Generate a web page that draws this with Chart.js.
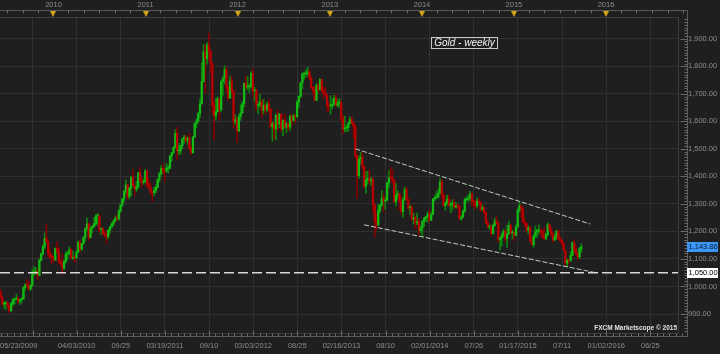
<!DOCTYPE html>
<html>
<head>
<meta charset="utf-8">
<script src="https://cdn.jsdelivr.net/npm/chart.js@4.4.0/dist/chart.umd.min.js"></script>
<style>
  html, body { margin: 0; padding: 0; background: #1f1f1f; }
  canvas { display: block; }
</style>
</head>
<body>
<canvas id="gold" width="720" height="354"></canvas>
<script>
// weekly candles, first one is the week of 06/05/2009 (week -30 counted from 01/01/2010)
const firstWeek = -30;
const firstOpen = 980;

const closes = [
  // 2009
  962,936,937,940,930,912,937,951,954,956, 947,952,955,996,1006,1003,991,1004,1050,1052,
  1056,1040,1095,1118,1144,1175,1163,1120,1110,1104,
  // 2010
  1096,1138,1130,1090,1083,1066,1090,1118,1118,1133, 1102,1105,1104,1125,1161,1136,1156,1179,1209,1228,
  1177,1212,1219,1229,1256,1256,1208,1210,1190,1189, 1181,1204,1216,1227,1237,1247,1246,1275,1296,1318,
  1346,1369,1326,1358,1397,1366,1353,1362,1413,1385, 1378,1380,1421,
  // 2011
  1368,1360,1343,1340,1348,1360,1388,1409,1429,1421, 1419,1429,1429,1474,1486,1504,1556,1492,1493,1512,
  1536,1542,1529,1539,1501,1486,1543,1592,1601,1628, 1663,1744,1852,1828,1877,1856,1812,1656,1620,1635,
  1682,1642,1745,1755,1788,1724,1685,1746,1711,1598, 1606,1565,
  // 2012
  1616,1630,1664,1738,1725,1725,1725,1774,1710,1711, 1657,1662,1668,1640,1659,1642,1663,1644,1580,1592,
  1572,1622,1590,1626,1573,1604,1579,1591,1579,1618, 1603,1621,1617,1670,1691,1740,1771,1772,1773,1780,
  1757,1724,1712,1676,1730,1714,1752,1712,1704,1696, 1657,1656,
  // 2013
  1656,1662,1685,1658,1667,1667,1609,1572,1576,1577, 1592,1608,1596,1580,1476,1403,1462,1469,1436,1364,
  1387,1393,1383,1388,1296,1234,1223,1277,1295,1321, 1310,1313,1376,1396,1395,1387,1308,1332,1338,1309,
  1272,1315,1352,1315,1286,1287,1244,1250,1231,1236, 1203,1213,
  // 2014
  1237,1248,1254,1264,1240,1262,1318,1323,1326,1339, 1379,1334,1294,1303,1318,1294,1300,1302,1288,1293,
  1292,1245,1252,1274,1316,1316,1320,1337,1310,1306, 1294,1310,1305,1280,1287,1268,1230,1216,1218,1192,
  1222,1238,1231,1171,1177,1188,1200,1175,1191,1222, 1195,1195,
  // 2015
  1186,1216,1277,1293,1283,1234,1227,1204,1213,1165, 1152,1183,1199,1201,1206,1203,1178,1174,1189,1225,
  1205,1189,1168,1180,1201,1173,1168,1158,1132,1085, 1095,1094,1113,1160,1134,1121,1108,1137,1144
];

const highs = [
  990,965,946,947,946,932,942,958,957,972, 962,954,960,999,1010,1025,1018,1007,1062,1072,
  1070,1065,1101,1122,1151,1195,1226,1166,1137,1118,
  1110,1140,1162,1142,1103,1119,1097,1126,1128,1145, 1138,1130,1112,1129,1165,1167,1157,1180,1213,1249,
  1231,1218,1221,1251,1261,1265,1262,1213,1215,1203, 1201,1208,1219,1232,1242,1256,1259,1280,1298,1320,
  1349,1387,1372,1360,1399,1424,1369,1383,1414,1432, 1395,1392,1424,
  1423,1390,1375,1345,1360,1368,1390,1415,1438,1445, 1425,1447,1440,1476,1487,1508,1569,1577,1520,1514,
  1539,1549,1549,1544,1557,1512,1545,1594,1610,1632, 1682,1813,1880,1877,1886,1921,1860,1809,1674,1684,
  1689,1683,1748,1764,1802,1795,1727,1764,1763,1714, 1625,1614,
  1626,1660,1672,1740,1764,1763,1737,1781,1792,1723, 1718,1672,1697,1679,1680,1660,1670,1678,1646,1600,
  1597,1626,1640,1629,1628,1605,1627,1597,1597,1623, 1624,1626,1626,1675,1692,1741,1777,1779,1788,1796,
  1787,1765,1725,1726,1738,1737,1754,1754,1724,1724, 1697,1668,
  1693,1679,1694,1697,1679,1683,1675,1620,1619,1586, 1597,1616,1616,1587,1588,1476,1476,1488,1486,1437,
  1417,1419,1424,1396,1396,1300,1267,1298,1298,1348, 1337,1325,1378,1420,1434,1423,1388,1375,1348,1338,
  1328,1323,1361,1360,1321,1294,1295,1266,1256,1267, 1247,1219,
  1240,1251,1256,1272,1279,1270,1320,1332,1345,1355, 1392,1389,1338,1309,1332,1331,1305,1315,1315,1306,
  1298,1294,1257,1278,1321,1326,1332,1346,1340,1316, 1312,1322,1320,1309,1296,1289,1270,1237,1224,1222,
  1227,1249,1255,1232,1179,1195,1208,1206,1222,1238, 1225,1205,
  1202,1225,1283,1307,1295,1287,1244,1232,1221,1219, 1178,1189,1220,1208,1224,1209,1203,1214,1194,1232,
  1226,1215,1196,1191,1205,1205,1180,1171,1159,1132, 1101,1099,1126,1162,1170,1146,1125,1142,1156
];

const lows = [
  955,931,921,916,922,905,908,930,935,950, 938,935,940,952,987,996,987,985,1001,1040,
  1044,1024,1040,1093,1115,1136,1160,1107,1100,1083,
  1090,1097,1121,1084,1075,1045,1061,1085,1097,1116, 1100,1098,1086,1102,1123,1125,1130,1152,1165,1201,
  1166,1180,1196,1214,1220,1225,1198,1189,1187,1177, 1157,1174,1193,1212,1221,1239,1239,1240,1268,1290,
  1308,1334,1316,1318,1330,1364,1330,1345,1357,1379, 1360,1371,1378,
  1361,1356,1335,1308,1330,1340,1357,1379,1405,1410, 1381,1415,1412,1427,1455,1483,1502,1462,1478,1480,
  1500,1521,1524,1515,1497,1478,1483,1541,1577,1596, 1614,1682,1742,1702,1808,1823,1776,1628,1533,1603,
  1633,1604,1634,1695,1736,1706,1675,1683,1702,1576, 1587,1523,
  1563,1603,1629,1653,1718,1714,1705,1723,1688,1673, 1641,1627,1650,1612,1626,1627,1636,1632,1577,1527,
  1534,1533,1566,1576,1562,1547,1577,1559,1567,1567, 1585,1601,1594,1614,1651,1686,1718,1752,1760,1765,
  1752,1718,1697,1673,1676,1705,1721,1705,1683,1691, 1636,1637,
  1626,1645,1658,1655,1651,1651,1598,1554,1562,1562, 1564,1590,1589,1540,1465,1321,1393,1445,1427,1359,
  1338,1372,1373,1366,1269,1180,1207,1222,1268,1291, 1271,1281,1312,1358,1385,1376,1305,1293,1317,1277,
  1262,1251,1312,1309,1280,1262,1240,1226,1211,1224, 1186,1194,
  1182,1217,1235,1234,1238,1240,1261,1310,1318,1320, 1339,1320,1291,1277,1296,1291,1268,1278,1285,1285,
  1282,1245,1240,1251,1270,1307,1311,1310,1292,1288, 1282,1285,1300,1273,1275,1261,1228,1214,1207,1183,
  1190,1219,1226,1161,1132,1147,1179,1163,1142,1190, 1187,1172,
  1167,1185,1216,1270,1250,1232,1216,1197,1191,1164, 1150,1142,1178,1178,1192,1187,1175,1170,1170,1183,
  1200,1182,1162,1170,1172,1170,1160,1147,1131,1077, 1072,1080,1091,1111,1119,1112,1098,1101,1124
];

// channel lines (week, price) and the 1050 support
const upperTrendWeeks = [171, 304];
const upperTrendPrices = [1500, 1227];
const lowerTrendWeeks = [176, 308];
const lowerTrendPrices = [1224, 1049];
const supportLevel = 1050;
const lastPrice = 1143.86;

const yTicks = [900, 1000, 1100, 1200, 1300, 1400, 1500, 1600, 1700, 1800, 1900];
const dateTicks = ['2009-10-10','2010-04-03','2010-09-25','2011-03-19','2011-09-10','2012-03-03','2012-08-25',
  '2013-02-16','2013-08-10','2014-02-01','2014-07-26','2015-01-17','2015-07-11','2016-01-02','2016-06-25'];
const dateLabels = ['05/23/2009','04/03/2010','09/25','03/19/2011','09/10','03/03/2012','08/25',
  '02/16/2013','08/10','02/01/2014','07/26','01/17/2015','07/11','01/02/2016','06/25'];
const years = [2010, 2011, 2012, 2013, 2014, 2015, 2016];

const X_MIN = -30.3, X_MAX = 353.8;
const FONT = 'Liberation Sans, Arial, sans-serif';

function weekOf(y, m, d) {
  return (Date.UTC(y, m, d) - Date.UTC(2010, 0, 1)) / (7 * 864e5);
}
function weekOfStr(s) {
  const p = s.split('-').map(Number);
  return weekOf(p[0], p[1] - 1, p[2]);
}
const xTickWeeks = dateTicks.map(weekOfStr);

const opens = closes.map((c, i) => (i === 0 ? firstOpen : closes[i - 1]));
const isUp = i => closes[i] >= opens[i];

const wickData = closes.map((c, i) => ({ x: firstWeek + i, y: [lows[i], highs[i]] }));
const bodyData = closes.map((c, i) => ({ x: firstWeek + i, y: [opens[i], closes[i]] }));

function fmt(v) {
  return v.toLocaleString('en-US', { minimumFractionDigits: 2, maximumFractionDigits: 2 });
}

const decor = {
  id: 'decor',
  beforeDraw(chart) {
    const c = chart.ctx;
    c.save();
    c.fillStyle = '#1f1f1f';
    c.fillRect(0, 0, chart.width, chart.height);
    c.restore();
  },
  afterDraw(chart) {
    const c = chart.ctx;
    const sx = chart.scales.x, sy = chart.scales.y, a = chart.chartArea;
    const X = w => sx.getPixelForValue(w);
    c.save();
    c.lineWidth = 1;

    // plot border
    c.strokeStyle = '#3c3c3c';
    c.beginPath();
    c.moveTo(0, a.top + 0.5); c.lineTo(a.right + 0.5, a.top + 0.5);
    c.lineTo(a.right + 0.5, a.bottom + 0.5); c.lineTo(0, a.bottom + 0.5);
    c.stroke();

    // outer frame with time strip and price axis
    c.strokeStyle = '#5a5a5a';
    c.beginPath();
    c.moveTo(0, 10.5); c.lineTo(687.5, 10.5); c.lineTo(687.5, 336.5); c.lineTo(0, 336.5);
    c.stroke();

    // top ticks, every two months
    c.strokeStyle = '#6a6a6a';
    c.beginPath();
    for (let y = 2009; y <= 2016; y++) {
      for (let m = 0; m < 12; m += 2) {
        const px = Math.round(X(weekOf(y, m, 1))) + 0.5;
        if (px < 0 || px > 686) continue;
        c.moveTo(px, 10.5); c.lineTo(px, 13.5);
      }
    }
    // bottom ticks
    for (let k = -10; k <= 110; k++) {
      const px = Math.round(X(xTickWeeks[0] + k * 25 / 7)) + 0.5;
      if (px < 0 || px > 686) continue;
      const len = k % 7 === 0 ? 6 : 3;
      c.moveTo(px, 336.5 - len); c.lineTo(px, 336.5);
    }
    // price ticks
    for (let v = 840; v <= 1970; v += 10) {
      const py = Math.round(sy.getPixelForValue(v)) + 0.5;
      if (py < a.top || py > a.bottom) continue;
      const len = v % 100 === 0 ? 7 : 3;
      c.moveTo(687.5 - len, py); c.lineTo(687.5, py);
    }
    c.stroke();

    // year labels and markers
    c.font = '7.5px ' + FONT;
    c.fillStyle = '#8c8c8c';
    c.textAlign = 'center';
    c.textBaseline = 'middle';
    years.forEach(y => {
      const px = X(weekOf(y, 0, 1));
      c.fillText(String(y), px, 5);
    });
    c.fillStyle = '#d4a21a';
    years.forEach(y => {
      const px = Math.round(X(weekOf(y, 0, 1)));
      c.beginPath();
      c.moveTo(px - 3, 11); c.lineTo(px + 3, 11); c.lineTo(px, 17);
      c.closePath(); c.fill();
    });

    // date labels
    c.fillStyle = '#8c8c8c';
    dateLabels.forEach((t, i) => {
      if (i === 0) {
        c.textAlign = 'left';
        c.fillText(t, 0, 346);
      } else {
        c.textAlign = 'center';
        c.fillText(t, X(xTickWeeks[i]), 346);
      }
    });

    // price tags
    c.textAlign = 'left';
    let py = sy.getPixelForValue(lastPrice);
    c.fillStyle = '#3b96f5';
    c.fillRect(687, Math.round(py) - 5, 31, 10);
    c.fillStyle = '#0b1a33';
    c.fillText(fmt(lastPrice), 688.5, Math.round(py));
    py = sy.getPixelForValue(supportLevel);
    c.fillStyle = '#ffffff';
    c.fillRect(687, Math.round(py) - 5, 31, 10);
    c.fillStyle = '#000000';
    c.fillText(fmt(supportLevel), 688.5, Math.round(py));

    // title box
    c.strokeStyle = '#c8c8c8';
    c.strokeRect(431.5, 37.5, 66, 11);
    c.fillStyle = '#f0f0f0';
    c.font = 'italic 10px ' + FONT;
    c.textAlign = 'center';
    c.fillText('Gold - weekly', 464.5, 43.5);

    // watermark
    c.font = 'bold 6.5px ' + FONT;
    c.textAlign = 'right';
    c.fillStyle = '#e2e2e2';
    c.fillText('FXCM Marketscope \u00a9 2015', 677, 328);
    c.restore();
  }
};

new Chart(document.getElementById('gold'), {
  type: 'bar',
  data: {
    datasets: [
      {
        type: 'line',
        data: [{ x: X_MIN, y: supportLevel }, { x: X_MAX, y: supportLevel }],
        borderColor: '#d8d8d8',
        borderWidth: 1.5,
        borderDash: [10, 4],
        pointRadius: 0,
        order: 0
      },
      {
        type: 'line',
        data: upperTrendWeeks.map((w, i) => ({ x: w, y: upperTrendPrices[i] })),
        borderColor: 'rgba(205,225,205,0.9)',
        borderWidth: 1,
        borderDash: [5, 2],
        pointRadius: 0,
        order: 0
      },
      {
        type: 'line',
        data: lowerTrendWeeks.map((w, i) => ({ x: w, y: lowerTrendPrices[i] })),
        borderColor: 'rgba(205,225,205,0.9)',
        borderWidth: 1,
        borderDash: [5, 2],
        pointRadius: 0,
        order: 0
      },
      {
        data: bodyData,
        backgroundColor: ctx => (isUp(ctx.dataIndex) ? '#14bb14' : '#b80000'),
        barThickness: 1.6,
        minBarLength: 1,
        borderWidth: 0,
        order: 1
      },
      {
        data: wickData,
        backgroundColor: ctx => (isUp(ctx.dataIndex) ? '#0d850d' : '#850000'),
        barThickness: 1,
        borderWidth: 0,
        order: 2
      }
    ]
  },
  options: {
    responsive: false,
    animation: false,
    events: [],
    layout: { padding: { top: 17, left: 0, right: 0, bottom: 0 } },
    datasets: { bar: { grouped: false } },
    plugins: { legend: { display: false }, tooltip: { enabled: false } },
    scales: {
      x: {
        type: 'linear',
        min: X_MIN,
        max: X_MAX,
        offset: false,
        grid: { color: '#303030', offset: false, drawTicks: false },
        border: { display: false },
        ticks: { display: false },
        afterBuildTicks: s => { s.ticks = xTickWeeks.map(v => ({ value: v })); },
        afterFit: s => { s.height = 21; }
      },
      y: {
        type: 'linear',
        position: 'right',
        min: 831,
        max: 1979,
        grid: { color: '#303030', drawTicks: false },
        border: { display: false },
        ticks: {
          color: '#8c8c8c',
          font: { family: FONT, size: 7.5 },
          padding: 10,
          callback: v => fmt(v)
        },
        afterBuildTicks: s => { s.ticks = yTicks.map(v => ({ value: v })); },
        afterFit: s => { s.width = 42; }
      }
    }
  },
  plugins: [decor]
});
</script>
</body>
</html>
